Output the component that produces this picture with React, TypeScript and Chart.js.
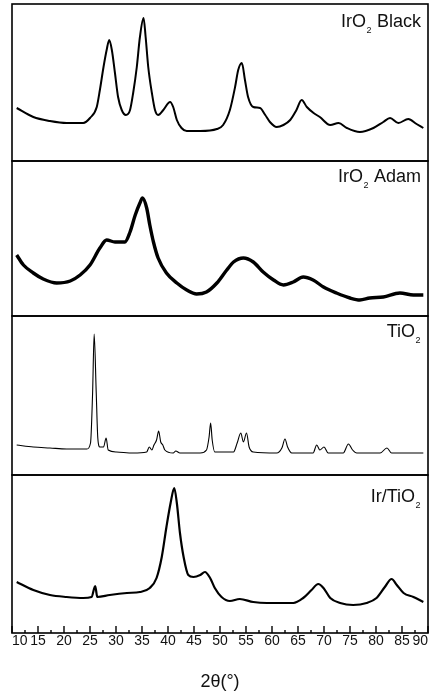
import React, { useEffect, useRef } from 'react';
import { Chart, registerables } from 'chart.js';

Chart.register(...registerables);

// ---------- data (2θ in degrees, intensity in arbitrary units) ----------
const blackTheta = [10.9, 14.1, 17.3, 20.5, 23.7, 25.0, 26.3, 26.9, 27.6, 28.2, 28.7, 29.2, 29.8, 30.4, 31.1, 31.9, 32.7, 33.3, 34.0, 34.6, 35.3, 35.7, 36.2, 36.9, 37.5, 38.1, 39.1, 40.4, 41.0, 41.7, 42.6, 43.6, 46.2, 49.4, 50.6, 51.9, 52.9, 53.5, 54.2, 54.8, 55.4, 56.4, 57.7, 58.7, 59.6, 60.9, 62.2, 63.5, 64.7, 65.7, 66.7, 68.0, 69.2, 71.2, 72.8, 74.4, 76.9, 79.5, 81.4, 82.7, 84.3, 86.2, 87.8, 89.1];
const blackIntensity = [53, 44, 40, 38, 38, 43, 54, 71, 94, 111, 121, 111, 88, 64, 51, 46, 51, 68, 94, 124, 143, 124, 94, 68, 51, 46, 51, 59, 54, 41, 33, 30, 30, 32, 36, 51, 74, 91, 98, 81, 64, 54, 53, 46, 39, 34, 36, 41, 51, 61, 54, 48, 44, 36, 38, 33, 29, 33, 39, 43, 38, 42, 37, 33];

const adamTheta = [10.9, 12.2, 14.1, 16.0, 18.6, 21.2, 23.1, 25.0, 26.9, 28.2, 29.8, 31.7, 32.7, 33.7, 34.6, 35.1, 35.9, 36.5, 37.2, 38.1, 39.7, 41.7, 43.6, 45.5, 47.4, 49.4, 51.3, 52.6, 54.5, 56.4, 58.3, 60.3, 62.2, 64.1, 66.0, 67.9, 69.9, 72.4, 75.0, 76.9, 78.8, 81.4, 84.6, 87.2, 89.1];
const adamIntensity = [61, 51, 43, 37, 33, 35, 41, 51, 68, 76, 74, 74, 84, 101, 113, 118, 108, 91, 74, 58, 43, 33, 26, 22, 24, 33, 46, 54, 58, 54, 44, 36, 31, 34, 39, 36, 29, 23, 18, 16, 18, 19, 23, 21, 21];

const tio2Theta = [10.9, 14.1, 17.3, 20.5, 24.4, 25.1, 25.5, 25.8, 26.2, 26.5, 26.9, 27.6, 28.1, 28.5, 30.1, 33.3, 35.9, 36.4, 36.9, 37.3, 37.8, 38.2, 38.6, 39.0, 39.4, 41.0, 41.5, 42.3, 46.2, 47.4, 47.9, 48.2, 48.5, 49.0, 52.6, 53.3, 54.0, 54.5, 55.1, 55.6, 56.4, 60.9, 61.9, 62.5, 63.0, 63.8, 67.9, 68.6, 69.2, 70.0, 70.8, 73.7, 74.7, 75.5, 76.3, 80.8, 82.1, 83.0, 89.1];
const tio2Intensity = [30, 28, 27, 26, 26, 32, 82, 141, 82, 37, 28, 28, 37, 25, 23, 22, 23, 28, 25, 30, 35, 44, 33, 30, 25, 22, 24, 22, 22, 25, 38, 52, 35, 23, 23, 32, 42, 33, 42, 28, 23, 22, 27, 36, 28, 22, 22, 30, 25, 28, 22, 22, 31, 25, 22, 22, 27, 22, 22];

const irTiO2Theta = [10.9, 14.1, 17.3, 20.5, 23.7, 25.3, 26.0, 26.4, 28.8, 32.1, 34.6, 36.5, 37.8, 38.8, 39.7, 40.5, 41.2, 41.7, 42.3, 43.0, 43.9, 44.9, 46.2, 47.1, 48.1, 49.0, 50.3, 51.9, 53.8, 56.4, 59.0, 62.2, 64.1, 66.0, 67.6, 68.9, 69.9, 71.2, 73.1, 75.6, 78.2, 80.1, 81.7, 83.0, 84.0, 85.3, 87.2, 89.1];
const irTiO2Intensity = [51, 43, 38, 36, 35, 36, 47, 36, 38, 40, 41, 45, 55, 76, 106, 130, 145, 130, 100, 76, 58, 56, 58, 61, 55, 45, 36, 32, 34, 31, 30, 30, 30, 35, 43, 49, 45, 35, 30, 28, 30, 35, 46, 54, 48, 40, 36, 31];

const xTickValues = [10, 15, 20, 25, 30, 35, 40, 45, 50, 55, 60, 65, 70, 75, 80, 85, 90];
const xMinorTickValues = [12.5, 17.5, 22.5, 27.5, 32.5, 37.5, 42.5, 47.5, 52.5, 57.5, 62.5, 67.5, 72.5, 77.5, 82.5, 87.5];
const xTitle = '2θ(°)';

const blackLabel: [string, boolean][] = [['IrO', false], ['2', true], [' Black', false]];
const adamLabel: [string, boolean][] = [['IrO', false], ['2', true], [' Adam', false]];
const tio2Label: [string, boolean][] = [['TiO', false], ['2', true]];
const irTiO2Label: [string, boolean][] = [['Ir/TiO', false], ['2', true]];

// ---------- layout ----------
const W = 432;
const H = 695;
const FONT = '"Liberation Sans", Arial, sans-serif';
const X_AXIS_HEIGHT = 62;

type Panel = {
  theta: number[];
  intensity: number[];
  label: [string, boolean][];
  top: number;
  bottom: number;
  lineWidth: number;
  labelOffset: number;
  last: boolean;
};

const panels: Panel[] = [
  { theta: blackTheta, intensity: blackIntensity, label: blackLabel, top: 4, bottom: 161, lineWidth: 2, labelOffset: 23, last: false },
  { theta: adamTheta, intensity: adamIntensity, label: adamLabel, top: 161, bottom: 316, lineWidth: 3.4, labelOffset: 21, last: false },
  { theta: tio2Theta, intensity: tio2Intensity, label: tio2Label, top: 316, bottom: 475, lineWidth: 1.1, labelOffset: 21, last: false },
  { theta: irTiO2Theta, intensity: irTiO2Intensity, label: irTiO2Label, top: 475, bottom: 633, lineWidth: 2.2, labelOffset: 27, last: true },
];

function makeDecor(p: Panel) {
  return {
    id: 'decor',
    afterDraw(chart: any) {
      const { ctx, chartArea: a } = chart;
      ctx.save();
      ctx.strokeStyle = '#000';
      ctx.lineWidth = 1.6;
      ctx.strokeRect(a.left, a.top, a.right - a.left, a.bottom - a.top);
      if (p.last) {
        const xs = chart.scales.x;
        ctx.lineWidth = 1.4;
        xTickValues.forEach((v) => {
          const px = xs.getPixelForValue(v);
          ctx.beginPath();
          ctx.moveTo(px, a.bottom);
          ctx.lineTo(px, a.bottom - 7);
          ctx.stroke();
        });
        xMinorTickValues.forEach((v) => {
          const px = xs.getPixelForValue(v);
          ctx.beginPath();
          ctx.moveTo(px, a.bottom);
          ctx.lineTo(px, a.bottom - 3);
          ctx.stroke();
        });
      }
      // label with subscript
      const mainFont = `18px ${FONT}`;
      const subFont = `9px ${FONT}`;
      let total = 0;
      const widths = p.label.map(([t, sub]) => {
        ctx.font = sub ? subFont : mainFont;
        const w = ctx.measureText(t).width + (sub ? 1 : 0);
        total += w;
        return w;
      });
      let x = a.right - 7 - total;
      const base = a.top + p.labelOffset;
      ctx.fillStyle = '#111';
      ctx.textAlign = 'left';
      ctx.textBaseline = 'alphabetic';
      p.label.forEach(([t, sub], i) => {
        ctx.font = sub ? subFont : mainFont;
        ctx.fillText(t, sub ? x + 0.5 : x, sub ? base + 6 : base);
        x += widths[i];
      });
      ctx.restore();
    },
  };
}

function PanelChart({ p }: { p: Panel }) {
  const ref = useRef<HTMLCanvasElement | null>(null);
  const top = p.top - 2;
  const height = (p.last ? H : p.bottom + 2) - top;

  useEffect(() => {
    if (!ref.current) return;
    const yMax = p.bottom - p.top;
    const chart = new Chart(ref.current, {
      type: 'line',
      data: {
        datasets: [
          {
            data: p.theta.map((t, i) => ({ x: t, y: p.intensity[i] })),
            borderColor: '#000',
            borderWidth: p.lineWidth,
            pointRadius: 0,
            cubicInterpolationMode: 'monotone',
            fill: false,
          },
        ],
      },
      options: {
        responsive: false,
        animation: false,
        layout: { padding: { left: 12, right: 4, top: 2, bottom: p.last ? 0 : 2 } },
        plugins: { legend: { display: false }, tooltip: { enabled: false } },
        scales: {
          x: {
            type: 'linear',
            min: 10,
            max: 90,
            display: p.last,
            afterBuildTicks: (axis: any) => {
              axis.ticks = xTickValues.map((v) => ({ value: v }));
            },
            afterFit: (axis: any) => {
              if (p.last) axis.height = X_AXIS_HEIGHT;
            },
            grid: { display: false, drawTicks: false },
            border: { display: false },
            ticks: {
              align: 'inner',
              autoSkip: false,
              maxRotation: 0,
              padding: 0,
              color: '#111',
              font: { family: FONT, size: 14 },
            },
            title: {
              display: true,
              text: xTitle,
              color: '#111',
              font: { family: FONT, size: 18 },
              padding: { top: 14, bottom: 2 },
            },
          },
          y: { type: 'linear', min: 0, max: yMax, display: false },
        },
      } as any,
      plugins: [makeDecor(p)],
    });
    return () => chart.destroy();
  }, [p]);

  return (
    <canvas
      ref={ref}
      width={W}
      height={height}
      style={{ position: 'absolute', left: 0, top, width: W, height, display: 'block' }}
    />
  );
}

export default function App() {
  return (
    <div style={{ position: 'absolute', left: 0, top: 0, width: W, height: H, background: '#fff' }}>
      {panels.map((p, i) => (
        <PanelChart key={i} p={p} />
      ))}
    </div>
  );
}
